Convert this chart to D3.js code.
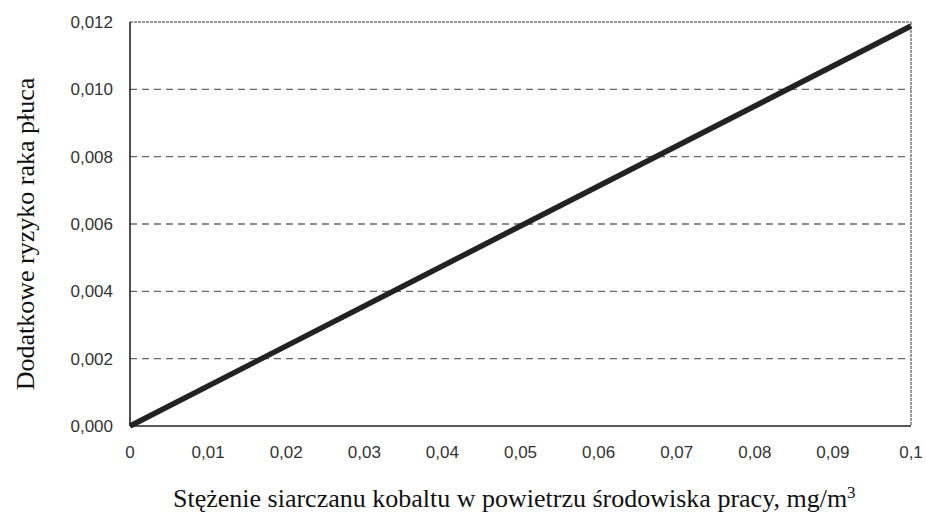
<!DOCTYPE html>
<html>
<head>
<meta charset="utf-8">
<script src="https://cdn.jsdelivr.net/npm/d3@7"></script>
<style>
  body { margin: 0; background: #fff; }
  .tick-label { font-family: "Liberation Sans", Arial, sans-serif; font-size: 17px; fill: #333; }
  .axis-title { font-family: "Liberation Serif", "Times New Roman", serif; font-size: 26px; fill: #111; }
</style>
</head>
<body>
<div id="chart"></div>
<script>
// data
var xTicks = [0, 0.01, 0.02, 0.03, 0.04, 0.05, 0.06, 0.07, 0.08, 0.09, 0.1];
var yTicks = [0, 0.002, 0.004, 0.006, 0.008, 0.010, 0.012];
var conc = [0, 0.1];
var risk = [0, 0.01188];

var margin = { top: 22, right: 15, bottom: 87, left: 130 };
var width = 926, height = 513;
var w = width - margin.left - margin.right;
var h = height - margin.top - margin.bottom;

var svg = d3.select('#chart').append('svg')
    .attr('width', width)
    .attr('height', height);

var g = svg.append('g')
    .attr('transform', 'translate(' + margin.left + ',' + margin.top + ')');

var x = d3.scaleLinear().domain([0, 0.1]).range([0, w]);
var y = d3.scaleLinear().domain([0, 0.012]).range([h, 0]);

var comma = function (d, dec) { return d3.format('.' + dec + 'f')(d).replace('.', ','); };

// dashed grid
g.selectAll('.grid')
    .data(yTicks.filter(function (d) { return d > 0 && d < 0.012; }))
    .enter().append('line')
    .attr('x1', 0).attr('x2', w)
    .attr('y1', function (d) { return y(d); })
    .attr('y2', function (d) { return y(d); })
    .attr('stroke', '#666')
    .attr('stroke-width', 1.3)
    .attr('stroke-dasharray', '7,5');

// top and right frame (light, dotted)
g.append('line').attr('x1', 0).attr('x2', w).attr('y1', 0).attr('y2', 0)
    .attr('stroke', '#777').attr('stroke-width', 1.5).attr('stroke-dasharray', '3,1');
g.append('line').attr('x1', w).attr('x2', w).attr('y1', 0).attr('y2', h)
    .attr('stroke', '#777').attr('stroke-width', 1.5).attr('stroke-dasharray', '3,1');

// left and bottom axes
g.append('line').attr('x1', 0).attr('x2', w).attr('y1', h).attr('y2', h)
    .attr('stroke', '#222').attr('stroke-width', 1.6);
g.append('line').attr('x1', 0).attr('x2', 0).attr('y1', 0).attr('y2', h)
    .attr('stroke', '#222').attr('stroke-width', 1.6);

// y tick labels
g.selectAll('.ylab')
    .data(yTicks)
    .enter().append('text')
    .attr('class', 'tick-label')
    .attr('x', -17)
    .attr('y', function (d) { return y(d) + 6; })
    .attr('text-anchor', 'end')
    .text(function (d) { return comma(d, 3); });

// x tick labels
g.selectAll('.xlab')
    .data(xTicks)
    .enter().append('text')
    .attr('class', 'tick-label')
    .attr('x', function (d) { return x(d); })
    .attr('y', h + 32)
    .attr('text-anchor', 'middle')
    .text(function (d) { return d === 0 ? '0' : (d === 0.1 ? '0,1' : comma(d, 2)); });

// the risk line
var line = d3.line()
    .x(function (d, i) { return x(conc[i]); })
    .y(function (d) { return y(d); });

g.append('path')
    .datum(risk)
    .attr('d', line)
    .attr('fill', 'none')
    .attr('stroke', '#222')
    .attr('stroke-width', 5.5);

// axis titles
var xt = svg.append('text')
    .attr('class', 'axis-title')
    .attr('x', 173)
    .attr('y', 507)
    .attr('text-anchor', 'start');
xt.append('tspan').text('Stężenie siarczanu kobaltu w powietrzu środowiska pracy, mg/m');
xt.append('tspan').attr('dy', -9).style('font-size', '17px').text('3');

svg.append('text')
    .attr('class', 'axis-title')
    .attr('transform', 'translate(34,' + 234 + ') rotate(-90)')
    .attr('text-anchor', 'middle')
    .text('Dodatkowe ryzyko raka płuca');
</script>
</body>
</html>
